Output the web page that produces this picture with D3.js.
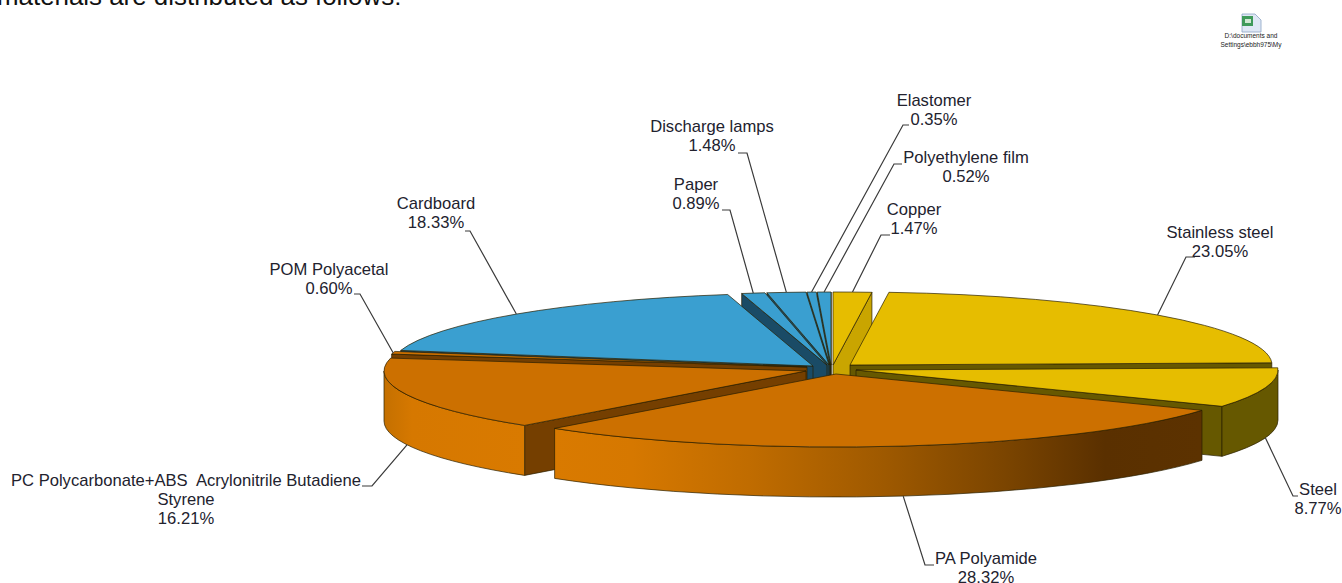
<!DOCTYPE html>
<html>
<head>
<meta charset="utf-8">
<script src="https://cdn.jsdelivr.net/npm/d3@7"></script>
<style>
  html, body { margin: 0; padding: 0; background: #fff; overflow: hidden; }
  svg { display: block; }
  text { font-family: "Liberation Sans", Arial, sans-serif; }
</style>
</head>
<body>
<div id="chart"></div>
<script>
// values, clockwise from 12 o'clock
const names = ["Copper", "Stainless steel", "Steel", "PA Polyamide",
  "PC Polycarbonate+ABS  Acrylonitrile Butadiene", "POM Polyacetal", "Cardboard",
  "Paper", "Discharge lamps", "Elastomer", "Polyethylene film"];
const shares = [1.47, 23.05, 8.77, 28.32, 16.21, 0.6, 18.33, 0.89, 1.48, 0.35, 0.52];
const families = ["gold", "gold", "gold", "orange", "orange", "orange", "blue", "blue", "blue", "blue", "blue"];

// layout: where each exploded slice has its apex
const apexX = [833, 850, 856, 836, 806, 807, 813, 827, 829, 830, 831];
const apexY = [365, 365, 370, 374, 371, 367, 366, 365, 365, 365, 365];
const drawOrder = [10, 9, 8, 7, 0, 6, 1, 5, 2, 4, 3];

// layout: leader elbow, leader end, label centre and first baseline
const elbowX = [881, 1186, 1293, 925, 372, 360, 470, 730, 747, 903, 894];
const elbowY = [235, 257, 496, 565, 486, 294, 231, 210, 153, 125, 164];
const endX = [890, 1195, 1298, 934, 362, 354, 465, 722, 738, 909, 902];
const labelX = [914, 1220, 1318, 986, 186, 329, 436, 696, 712, 934, 966];
const labelY = [215, 238, 495, 564, 486, 275, 209, 190, 132, 106, 163];

const width = 1342, height = 583;
const rx = 422, ry = 73, depth = 50;
const topColor = { gold: "#e6bd00", orange: "#cc7000", blue: "#3a9fd0" };
const sideColor = { gold: "#665800", orange: "#753f00", blue: "#1a4b66" };

const svg = d3.select("#chart").append("svg")
  .attr("width", width)
  .attr("height", height);

const defs = svg.append("defs");
const grad = (id, stops) => {
  const g = defs.append("linearGradient").attr("id", id);
  stops.forEach((s) => g.append("stop").attr("offset", s[0]).attr("stop-color", s[1]));
};
grad("wall3", [[0, "#d97a00"], [0.12, "#d67800"], [0.3, "#c06c00"], [0.5, "#a05a00"],
  [0.7, "#7a4400"], [0.85, "#5a3000"], [1, "#5c3200"]]);
grad("wall4", [[0, "#c47000"], [0.2, "#d67800"], [1, "#d97a00"]]);

// the pie only gives the angles, the tilt is done by rim()
const arcs = d3.pie().sort(null).value((d) => d)(shares);
const rim = (i, a, dy = 0) => [
  apexX[i] + rx * Math.sin(a),
  apexY[i] - ry * Math.cos(a) + dy,
];
const arcTo = (p) => `A${rx},${ry} 0 0 1 ${p[0]},${p[1]}`;

const drawPath = (d, fill) => svg.append("path")
  .attr("d", d)
  .attr("fill", fill)
  .attr("stroke", "#2a2000")
  .attr("stroke-width", 0.7)
  .attr("stroke-linejoin", "round");

drawOrder.forEach((i) => {
  const { startAngle: a0, endAngle: a1 } = arcs[i];
  const fam = families[i];
  const ax = apexX[i], ay = apexY[i];

  // radial side walls that face the viewer
  if (Math.sin(a0) < 0) {
    const p = rim(i, a0), q = rim(i, a0, depth);
    drawPath(`M${ax},${ay}L${p}L${q}L${ax},${ay + depth}Z`, sideColor[fam]);
  }
  if (Math.sin(a1) > 0) {
    const p = rim(i, a1), q = rim(i, a1, depth);
    const fill = i === 0 ? "#c9a500" : sideColor[fam];
    drawPath(`M${ax},${ay}L${p}L${q}L${ax},${ay + depth}Z`, fill);
  }

  // outer curved wall, front half only
  const w0 = Math.max(a0, Math.PI / 2), w1 = Math.min(a1, Math.PI * 1.5);
  if (w1 > w0) {
    const fill = i === 3 ? "url(#wall3)" : i === 4 ? "url(#wall4)" : sideColor[fam];
    const p0 = rim(i, w0), p1 = rim(i, w1), q1 = rim(i, w1, depth), q0 = rim(i, w0, depth);
    drawPath(`M${p0}${arcTo(p1)}L${q1}A${rx},${ry} 0 0 0 ${q0}Z`, fill);
  }

  // top face
  const t0 = rim(i, a0), t1 = rim(i, a1);
  drawPath(`M${ax},${ay}L${t0}${arcTo(t1)}Z`, topColor[fam]);
});

// leaders
arcs.forEach((d, i) => {
  const mid = (d.startAngle + d.endAngle) / 2;
  const front = Math.cos(mid) < 0;
  const s = rim(i, mid, front ? depth : 0);
  svg.append("polyline")
    .attr("points", [s, [elbowX[i], elbowY[i]], [endX[i], elbowY[i]]].join(" "))
    .attr("fill", "none")
    .attr("stroke", "#3a3a3a")
    .attr("stroke-width", 1.2);
});

// labels
const wrapped = { 4: ["PC Polycarbonate+ABS  Acrylonitrile Butadiene", "Styrene"] };
names.forEach((n, i) => {
  const lines = (wrapped[i] || [n]).concat(shares[i].toFixed(2) + "%");
  const t = svg.append("text")
    .attr("text-anchor", "middle")
    .attr("font-size", 16.6)
    .attr("fill", "#22222e")
    .style("white-space", "pre");
  lines.forEach((l, k) => t.append("tspan")
    .attr("x", labelX[i])
    .attr("y", labelY[i] + k * 19)
    .text(l));
});

// bits of the surrounding document
svg.append("text")
  .attr("x", -3).attr("y", 5)
  .attr("font-size", 25.9)
  .attr("fill", "#111")
  .text("materials are distributed as follows:");

const icon = svg.append("g").attr("transform", "translate(1241,13)");
icon.append("path").attr("d", "M1,1H14L20,7V19H1Z").attr("fill", "#dfe8f5").attr("stroke", "#8aa3c4").attr("stroke-width", 0.8);
icon.append("rect").attr("x", 1).attr("y", 3).attr("width", 11).attr("height", 10).attr("fill", "#3f9a5a");
icon.append("rect").attr("x", 4).attr("y", 6).attr("width", 6).attr("height", 4).attr("fill", "#cfe8d2");
["D:\\documents and", "Settings\\ebbh975\\My"].forEach((l, k) => {
  svg.append("text")
    .attr("x", 1251).attr("y", 38 + k * 9)
    .attr("text-anchor", "middle")
    .attr("font-size", 6.5)
    .attr("fill", "#222")
    .text(l);
});
</script>
</body>
</html>
